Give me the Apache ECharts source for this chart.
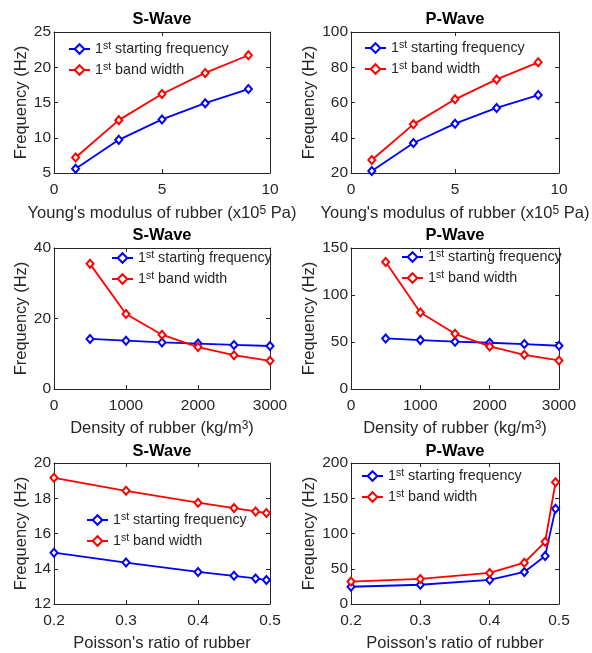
<!DOCTYPE html>
<html><head><meta charset="utf-8">
<script src="https://cdn.jsdelivr.net/npm/echarts@6/dist/echarts.min.js"></script>
<style>html,body{margin:0;padding:0;background:#fff}#c{width:592px;height:653px}</style>
</head><body><div id="c"></div>
<script>
// ---- data ----
var youngX = [1, 3, 5, 7, 9];
var sYoungStart = [5.6, 9.7, 12.6, 14.9, 16.9];
var sYoungBand = [7.2, 12.5, 16.2, 19.2, 21.7];
var pYoungStart = [21.1, 37.0, 48.0, 56.9, 64.2];
var pYoungBand = [27.4, 47.6, 61.8, 73.1, 82.8];

var densityX = [500, 1000, 1500, 2000, 2500, 3000];
var sDensStart = [14.2, 13.7, 13.2, 12.9, 12.5, 12.2];
var sDensBand = [35.5, 21.3, 15.4, 11.9, 9.6, 8.0];
var pDensStart = [53.8, 52.0, 50.3, 49.2, 47.8, 46.0];
var pDensBand = [135.1, 81.4, 58.7, 45.3, 36.4, 30.4];

var poissonX = [0.2, 0.3, 0.4, 0.45, 0.48, 0.495];
var sPoisStart = [14.91, 14.35, 13.82, 13.6, 13.45, 13.36];
var sPoisBand = [19.16, 18.42, 17.75, 17.44, 17.25, 17.16];
var pPoisStart = [24.5, 27.3, 34.1, 45.5, 68.2, 135];
var pPoisBand = [31.8, 35.5, 44.1, 58.6, 88.2, 172.7];

var seriesNames = ['1st starting frequency', '1st band width'];
var titles = ['S-Wave', 'P-Wave'];
var xNames = ["Young's modulus of rubber (x10{sup|5} Pa)", 'Density of rubber (kg/m{sup|3})', "Poisson's ratio of rubber"];
var yName = 'Frequency (Hz)';

// ---- layout ----
var FONT = "'Liberation Sans', Arial, Helvetica, sans-serif";
var TXT = '#262626';
var AX = '#262626';
var cols = [{left: 54, width: 216, yGap: 23}, {left: 351, width: 208, yGap: 33}];
var rows = [{top: 32, height: 141, nameGap: 32}, {top: 248, height: 141, nameGap: 31}, {top: 463, height: 147, nameGap: 31}];

var panels = [
  {r: 0, c: 0, x: youngX, s: sYoungStart, b: sYoungBand, xr: [0, 10, 5], yr: [5, 25, 5], lg: [68, 49]},
  {r: 0, c: 1, x: youngX, s: pYoungStart, b: pYoungBand, xr: [0, 10, 5], yr: [20, 100, 20], lg: [364, 48]},
  {r: 1, c: 0, x: densityX, s: sDensStart, b: sDensBand, xr: [0, 3000, 1000], yr: [0, 40, 20], lg: [111, 258]},
  {r: 1, c: 1, x: densityX, s: pDensStart, b: pDensBand, xr: [0, 3000, 1000], yr: [0, 150, 50], lg: [401, 257]},
  {r: 2, c: 0, x: poissonX, s: sPoisStart, b: sPoisBand, xr: [0.2, 0.5, 0.1], yr: [12, 20, 2], lg: [86, 520]},
  {r: 2, c: 1, x: poissonX, s: pPoisStart, b: pPoisBand, xr: [0.2, 0.5, 0.1], yr: [0, 200, 50], lg: [361, 476]}
];

var option = {
  animation: false,
  backgroundColor: '#fff',
  textStyle: {fontFamily: FONT, color: TXT},
  grid: [], xAxis: [], yAxis: [], series: [], title: [], legend: []
};

function fmtX(v, step) {
  if (step < 1) return v.toFixed(1);
  return String(Math.round(v));
}

panels.forEach(function (p, i) {
  var col = cols[p.c], row = rows[p.r];
  option.grid.push({left: col.left, width: col.width, top: row.top, height: row.height, containLabel: false});
  var step = p.xr[2];
  option.xAxis.push({
    type: 'value', gridIndex: i, min: p.xr[0], max: p.xr[1], interval: p.xr[2],
    position: 'bottom',
    name: xNames[p.r], nameLocation: 'middle', nameGap: row.nameGap,
    nameTextStyle: {fontSize: 16.5, color: TXT, fontFamily: FONT, rich: {sup: {fontSize: 12, verticalAlign: 'top', lineHeight: 10, color: TXT, fontFamily: FONT}}},
    axisLine: {show: true, lineStyle: {color: AX, width: 1}},
    axisTick: {show: true, inside: true, length: 4, lineStyle: {color: AX}},
    axisLabel: {fontSize: 15.5, color: TXT, margin: 9, fontFamily: FONT, formatter: function (v) { return fmtX(v, step); }},
    splitLine: {show: false}
  });
  option.xAxis.push({
    type: 'value', gridIndex: i, min: p.xr[0], max: p.xr[1], interval: p.xr[2], position: 'top',
    axisLine: {show: true, onZero: false, lineStyle: {color: AX, width: 1}},
    axisTick: {show: true, inside: true, length: 4, lineStyle: {color: AX}},
    axisLabel: {show: false}, splitLine: {show: false}
  });
  option.yAxis.push({
    type: 'value', gridIndex: i, min: p.yr[0], max: p.yr[1], interval: p.yr[2], position: 'left',
    name: yName, nameLocation: 'middle', nameGap: col.yGap,
    nameTextStyle: {fontSize: 16.5, color: TXT, fontFamily: FONT},
    axisLine: {show: true, onZero: false, lineStyle: {color: AX, width: 1}},
    axisTick: {show: true, inside: true, length: 4, lineStyle: {color: AX}},
    axisLabel: {fontSize: 15.5, color: TXT, margin: 3, fontFamily: FONT},
    splitLine: {show: false}
  });
  option.yAxis.push({
    type: 'value', gridIndex: i, min: p.yr[0], max: p.yr[1], interval: p.yr[2], position: 'right',
    axisLine: {show: true, onZero: false, lineStyle: {color: AX, width: 1}},
    axisTick: {show: true, inside: true, length: 4, lineStyle: {color: AX}},
    axisLabel: {show: false}, splitLine: {show: false}
  });
  var xi = 2 * i, yi = 2 * i;
  [[p.s, '#0000ff'], [p.b, '#ff0000']].forEach(function (sd, k) {
    option.series.push({
      type: 'line', name: seriesNames[k], xAxisIndex: xi, yAxisIndex: yi,
      data: p.x.map(function (xv, j) { return [xv, sd[0][j]]; }),
      symbol: 'emptyDiamond', symbolSize: [7, 8], showSymbol: true,
      lineStyle: {color: sd[1], width: 1.8},
      itemStyle: {color: sd[1], borderColor: sd[1], borderWidth: 1.5},
      emphasis: {disabled: true}, z: 3 + k
    });
  });
  option.title.push({
    text: titles[p.c], left: col.left + col.width / 2, top: [11, 227, 443][p.r], textAlign: 'center', padding: 0,
    textStyle: {fontSize: 16.5, fontWeight: 'bold', color: '#000', fontFamily: FONT}
  });
  option.legend.push({
    data: seriesNames, orient: 'vertical', left: p.lg[0], top: p.lg[1] - 8, padding: 0,
    itemWidth: 21, itemHeight: 12, itemGap: 5, selectedMode: false,
    formatter: function (n) { return n.replace('1st', '1{sup|st}'); },
    textStyle: {fontSize: 14.3, color: TXT, fontFamily: FONT, lineHeight: 16,
      rich: {sup: {fontSize: 10.5, verticalAlign: 'top', lineHeight: 8, color: TXT, fontFamily: FONT}}}
  });
});

var chart = echarts.init(document.getElementById('c'), null, {renderer: 'canvas'});
chart.setOption(option);
</script>
</body></html>
